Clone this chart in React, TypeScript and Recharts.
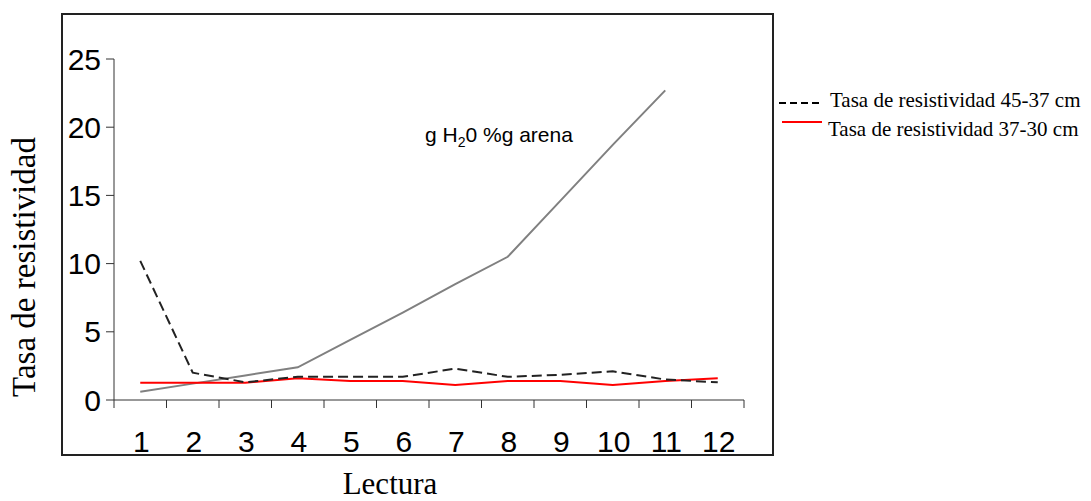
import React from 'react';
import { LineChart, Line, XAxis, YAxis } from 'recharts';

// Lectura 1..12
const lecturas = [1, 2, 3, 4, 5, 6, 7, 8, 9, 10, 11, 12];
const tasa4537 = [10.2, 2.0, 1.3, 1.7, 1.7, 1.7, 2.3, 1.7, 1.85, 2.1, 1.5, 1.3];
const tasa3730 = [1.27, 1.27, 1.27, 1.6, 1.4, 1.4, 1.1, 1.4, 1.4, 1.1, 1.4, 1.6];
const aguaArena = [0.6, 1.2, 1.8, 2.4, 4.4, 6.4, 8.5, 10.5, 14.6, 18.7, 22.7, null];
const yTicks = [0, 5, 10, 15, 20, 25];
const xBounds = [0.5, 1.5, 2.5, 3.5, 4.5, 5.5, 6.5, 7.5, 8.5, 9.5, 10.5, 11.5, 12.5];

const data = lecturas.map((l, i) => ({
  lectura: l,
  t4537: tasa4537[i],
  t3730: tasa3730[i],
  agua: aguaArena[i],
}));

const W = 1091;
const H = 501;
const MARGIN = { top: 59, right: 347, bottom: 41, left: 0 };
const Y_AXIS_W = 114;
const PLOT_W = W - MARGIN.right - Y_AXIS_W;
const STEP = PLOT_W / lecturas.length;

const SANS = 'Liberation Sans, Arial, sans-serif';
const SERIF = 'Liberation Serif, Times New Roman, serif';

// label sits in the middle of each interval, tick marks on the boundaries
const XTick = ({ x, y, index }: any) => {
  if (index >= lecturas.length) return null;
  return (
    <text x={x + STEP / 2 + 1} y={y + 44} textAnchor="middle" fontSize={30} fontFamily={SANS} fill="#000">
      {lecturas[index]}
    </text>
  );
};

export default function App() {
  return (
    <div style={{ position: 'absolute', left: 0, top: 0, width: W, height: H, background: '#fff' }}>
      <div
        style={{
          position: 'absolute',
          left: 61,
          top: 13,
          width: 713,
          height: 443,
          border: '2px solid #222',
          boxSizing: 'border-box',
        }}
      />
      <div style={{ position: 'absolute', left: 0, top: 0 }}>
        <LineChart width={W} height={H} data={data} margin={MARGIN}>
          <XAxis
            dataKey="lectura"
            type="number"
            domain={[0.5, 12.5]}
            ticks={xBounds}
            interval={0}
            height={60}
            tickSize={8}
            tickMargin={0}
            stroke="#333"
            tickLine={{ stroke: '#333' }}
            tick={<XTick />}
          />
          <YAxis
            domain={[0, 25]}
            ticks={yTicks}
            width={Y_AXIS_W}
            tickSize={8}
            tickMargin={5}
            stroke="#333"
            tick={{ fill: '#000', fontSize: 30, fontFamily: SANS }}
          />
          <Line
            dataKey="agua"
            stroke="#808080"
            strokeWidth={2}
            dot={false}
            isAnimationActive={false}
          />
          <Line
            dataKey="t3730"
            stroke="#ff0000"
            strokeWidth={2}
            dot={false}
            isAnimationActive={false}
          />
          <Line
            dataKey="t4537"
            stroke="#222"
            strokeWidth={2}
            strokeDasharray="10 5"
            dot={false}
            isAnimationActive={false}
          />
        </LineChart>
      </div>
      <svg width={W} height={H} style={{ position: 'absolute', left: 0, top: 0, pointerEvents: 'none' }}>
        <text transform="translate(35,267) rotate(-90)" textAnchor="middle" fontSize={33} fontFamily={SERIF} fill="#000">
          Tasa de resistividad
        </text>
        <text x={390} y={494} textAnchor="middle" fontSize={31} fontFamily={SERIF} fill="#000">
          Lectura
        </text>
        <text x={425} y={142} fontSize={21} fontFamily={SANS} fill="#000">
          g H<tspan fontSize={14} dy={5}>2</tspan>
          <tspan dy={-5}>0 %g arena</tspan>
        </text>
        <line x1={779} y1={103} x2={819} y2={103} stroke="#000" strokeWidth={2} strokeDasharray="7 4" />
        <text x={830} y={107} fontSize={21} fontFamily={SERIF} fill="#000">
          Tasa de resistividad 45-37 cm
        </text>
        <line x1={782} y1={122} x2={822} y2={122} stroke="#ff0000" strokeWidth={2} />
        <text x={828} y={136} fontSize={21} fontFamily={SERIF} fill="#000">
          Tasa de resistividad 37-30 cm
        </text>
      </svg>
    </div>
  );
}
